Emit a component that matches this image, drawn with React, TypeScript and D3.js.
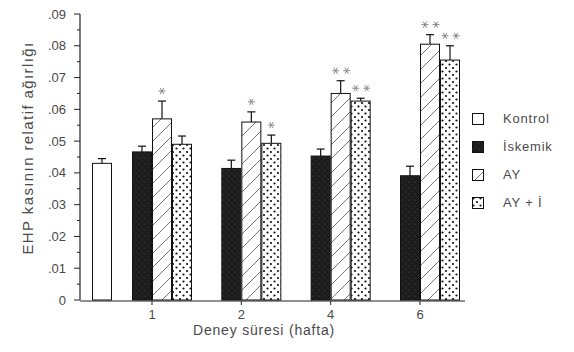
import React from "react";
import * as d3 from "d3";

const weeks = ["1", "2", "4", "6"];
const series = ["İskemik", "AY", "AY + İ"];
const legendLabels = ["Kontrol", "İskemik", "AY", "AY + İ"];

const kontrolValue = 0.043;
const kontrolErr = 0.0015;

const iskemikValues = [0.0466, 0.0414, 0.0453, 0.0391];
const iskemikErr = [0.0018, 0.0026, 0.0022, 0.003];
const ayValues = [0.057, 0.056, 0.065, 0.0805];
const ayErr = [0.0056, 0.0032, 0.004, 0.003];
const ayiValues = [0.049, 0.0493, 0.0626, 0.0755];
const ayiErr = [0.0026, 0.0026, 0.0009, 0.0045];

// number of asterisks over each bar
const ayStars = [1, 1, 2, 2];
const ayiStars = [0, 1, 2, 2];

const yTicks = [0, 0.01, 0.02, 0.03, 0.04, 0.05, 0.06, 0.07, 0.08, 0.09];

const fills = ["url(#iskemik)", "url(#hatch)", "url(#dots)"];

const App = () => {
  const y = d3.scaleLinear().domain([0, 0.09]).range([300, 14]);
  const x = d3.scalePoint().domain(weeks).range([152, 420]);
  const inner = d3.scaleBand().domain(series).range([-20, 40]);
  const bw = inner.bandwidth();

  const minorTicks = d3.range(0, 0.0901, 0.005);
  const values = [iskemikValues, ayValues, ayiValues];
  const errs = [iskemikErr, ayErr, ayiErr];
  const stars = [null, ayStars, ayiStars];
  const starPath = d3.symbol(d3.symbolAsterisk, 34)() as string;

  const textColor = "#4a4a4a";
  const font = "'Liberation Sans', Arial, sans-serif";

  // control bar sits two bar widths left of the first group
  const kx = (x("1") as number) + (inner("İskemik") as number) - 2 * bw;

  const bar = (bx: number, v: number, e: number, fill: string, key: string, nStar = 0) => {
    const cx = bx + bw / 2;
    const sy = y(v + e) - 10;
    const offs = nStar === 2 ? [-5, 6] : nStar === 1 ? [0] : [];
    return (
      <g key={key}>
        <line x1={cx} x2={cx} y1={y(v)} y2={y(v + e)} stroke="#111" strokeWidth={1.2} />
        <line x1={cx - 4} x2={cx + 4} y1={y(v + e)} y2={y(v + e)} stroke="#111" strokeWidth={1.2} />
        <rect x={bx + 0.5} y={y(v)} width={bw - 1} height={y(0) - y(v)} fill={fill} stroke="#111" strokeWidth={1} />
        {offs.map((o, i) => (
          <path key={i} d={starPath} transform={`translate(${cx + o},${sy}) rotate(90)`} fill="none" stroke="#888" strokeWidth={1} />
        ))}
      </g>
    );
  };

  return (
    <svg width={574} height={352} style={{ position: "absolute", left: 0, top: 0, background: "#fff" }}>
      <defs>
        <pattern id="hatch" patternUnits="userSpaceOnUse" width={14} height={14}>
          <rect width={14} height={14} fill="#fff" />
          <line x1={0} y1={14} x2={14} y2={0} stroke="#555" strokeWidth={0.8} />
          <line x1={-2} y1={2} x2={2} y2={-2} stroke="#555" strokeWidth={0.8} />
          <line x1={12} y1={16} x2={16} y2={12} stroke="#555" strokeWidth={0.8} />
        </pattern>
        <pattern id="dots" patternUnits="userSpaceOnUse" width={7} height={7}>
          <rect width={7} height={7} fill="#fff" />
          <circle cx={1.5} cy={1.5} r={1.1} fill="#111" />
          <circle cx={5} cy={5} r={1.1} fill="#111" />
        </pattern>
        <pattern id="iskemik" patternUnits="userSpaceOnUse" width={6} height={6}>
          <rect width={6} height={6} fill="#1c1c1c" />
          <circle cx={1} cy={2} r={0.6} fill="#555" />
          <circle cx={4} cy={5} r={0.5} fill="#444" />
          <circle cx={4.5} cy={1} r={0.4} fill="#3a3a3a" />
        </pattern>
      </defs>

      {/* y axis */}
      <line x1={80} x2={80} y1={y(0)} y2={y(0.09)} stroke="#222" strokeWidth={1.2} />
      {minorTicks.map((t, i) => (
        <line key={"m" + i} x1={i % 2 === 0 ? 74 : 77} x2={80} y1={y(t)} y2={y(t)} stroke="#222" strokeWidth={1} />
      ))}
      {yTicks.map((t) => (
        <text key={"yt" + t} x={66} y={y(t)} dy="0.35em" textAnchor="end" fontSize={13} fill={textColor} fontFamily={font}>
          {t === 0 ? "0" : t.toFixed(2).slice(1)}
        </text>
      ))}
      <text transform={`translate(33,148) rotate(-90)`} textAnchor="middle" fontSize={15} fill={textColor}
        fontFamily={font} letterSpacing={1.4}>
        EHP kasının relatif ağırlığı
      </text>

      {/* x axis */}
      <line x1={80} x2={465} y1={y(0) + 1} y2={y(0) + 1} stroke="#222" strokeWidth={1.2} />
      {weeks.map((w) => (
        <g key={"xt" + w}>
          <line x1={x(w)} x2={x(w)} y1={y(0) + 1} y2={y(0) + 5} stroke="#222" strokeWidth={1} />
          <text x={x(w)} y={y(0) + 19} textAnchor="middle" fontSize={13} fill={textColor} fontFamily={font}>{w}</text>
        </g>
      ))}
      <text x={264} y={335} textAnchor="middle" fontSize={14} fill={textColor} fontFamily={font} letterSpacing={0.8}>
        Deney süresi (hafta)
      </text>

      {/* bars */}
      {bar(kx, kontrolValue, kontrolErr, "#fff", "kontrol")}
      {weeks.map((w, wi) =>
        series.map((s, si) =>
          bar((x(w) as number) + (inner(s) as number), values[si][wi], errs[si][wi], fills[si], w + s,
            stars[si] ? (stars[si] as number[])[wi] : 0)
        )
      )}

      {/* legend */}
      {legendLabels.map((l, i) => (
        <g key={"lg" + l} transform={`translate(472,${113 + i * 28})`}>
          <rect x={0.5} y={0.5} width={11} height={11} fill={i === 0 ? "#fff" : fills[i - 1]} stroke="#111" strokeWidth={1} />
          <text x={31} y={5} dy="0.35em" fontSize={13} fill={textColor} fontFamily={font} letterSpacing={0.8}>{l}</text>
        </g>
      ))}
    </svg>
  );
};

export default App;
